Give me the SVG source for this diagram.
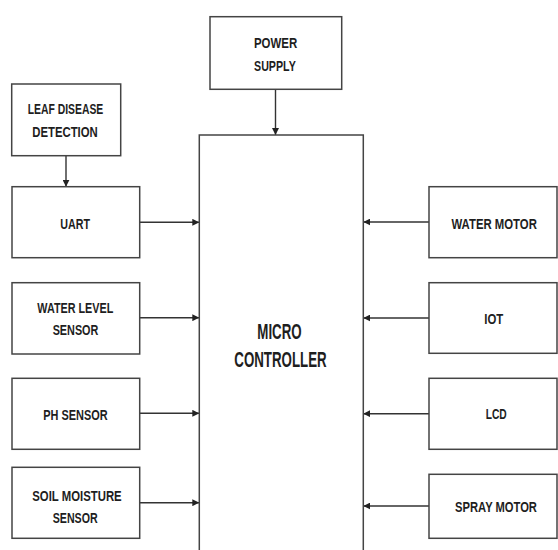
<svg xmlns="http://www.w3.org/2000/svg" width="558" height="550" viewBox="0 0 558 550">
<style>
.box{fill:#fff;stroke:#444;stroke-width:1.5}
.t{font-family:"Liberation Sans",Arial,sans-serif;font-weight:bold;font-size:15px;fill:#1e1e1e;text-anchor:middle}
.big{font-size:22px}
.c{stroke:#333;stroke-width:1.4;fill:none;marker-end:url(#ah)}
</style>
<defs>
<marker id="ah" markerUnits="userSpaceOnUse" markerWidth="7" markerHeight="7" refX="7" refY="3.5" orient="auto">
<path d="M0,0 L7,3.5 L0,7 z" fill="#222"/>
</marker>
</defs>
<rect width="558" height="550" fill="#fff"/>
<g id="connectors">
<line class="c" x1="275.5" y1="89.3" x2="275.5" y2="135"/>
<line class="c" x1="66" y1="155.7" x2="66" y2="186.7"/>
<line class="c" x1="139.7" y1="222.3" x2="199.3" y2="222.3"/>
<line class="c" x1="139.7" y1="317.7" x2="199.3" y2="317.7"/>
<line class="c" x1="139.7" y1="413.3" x2="199.3" y2="413.3"/>
<line class="c" x1="139.7" y1="502.7" x2="199.3" y2="502.7"/>
<line class="c" x1="429" y1="222" x2="363.3" y2="222"/>
<line class="c" x1="429" y1="318" x2="363.3" y2="318"/>
<line class="c" x1="429" y1="413.7" x2="363.3" y2="413.7"/>
<line class="c" x1="429" y1="506" x2="363.3" y2="506"/>
</g>
<g id="leaf">
<rect class="box" x="11.7" y="84" width="109" height="71.7"/>
<text class="t" x="65.5" y="114.3" textLength="75.6" lengthAdjust="spacingAndGlyphs">LEAF DISEASE</text>
<text class="t" x="65" y="136.7" textLength="65.4" lengthAdjust="spacingAndGlyphs">DETECTION</text>
</g>
<g id="power">
<rect class="box" x="210" y="16.7" width="131.7" height="72.6"/>
<text class="t" x="275.6" y="48.3" textLength="43.3" lengthAdjust="spacingAndGlyphs">POWER</text>
<text class="t" x="274.9" y="70.5" textLength="41.7" lengthAdjust="spacingAndGlyphs">SUPPLY</text>
</g>
<g id="uart">
<rect class="box" x="12" y="186.7" width="127.7" height="71"/>
<text class="t" x="75.2" y="228.7" textLength="29.7" lengthAdjust="spacingAndGlyphs">UART</text>
</g>
<g id="waterlevel">
<rect class="box" x="12" y="282.7" width="127.7" height="71.3"/>
<text class="t" x="75.3" y="312.7" textLength="76" lengthAdjust="spacingAndGlyphs">WATER LEVEL</text>
<text class="t" x="75.5" y="335" textLength="45.7" lengthAdjust="spacingAndGlyphs">SENSOR</text>
</g>
<g id="ph">
<rect class="box" x="12" y="378.3" width="127.7" height="71"/>
<text class="t" x="75.5" y="420" textLength="64.4" lengthAdjust="spacingAndGlyphs">PH SENSOR</text>
</g>
<g id="soil">
<rect class="box" x="12" y="467.3" width="127.7" height="71"/>
<text class="t" x="77" y="500.7" textLength="89.4" lengthAdjust="spacingAndGlyphs">SOIL MOISTURE</text>
<text class="t" x="75.2" y="523.3" textLength="45" lengthAdjust="spacingAndGlyphs">SENSOR</text>
</g>
<g id="micro">
<rect class="box" x="199.3" y="135" width="164" height="430"/>
<text class="t big" x="279.5" y="339.3" textLength="44.4" lengthAdjust="spacingAndGlyphs">MICRO</text>
<text class="t big" x="280.5" y="366.7" textLength="92.4" lengthAdjust="spacingAndGlyphs">CONTROLLER</text>
</g>
<g id="watermotor">
<rect class="box" x="429" y="186.7" width="128" height="71"/>
<text class="t" transform="translate(494.2,228.7) scale(0.757,1)" x="0" y="0">WATER MOTOR</text>
</g>
<g id="iot">
<rect class="box" x="429" y="282.7" width="128" height="70.6"/>
<text class="t" x="493.8" y="324" textLength="19" lengthAdjust="spacingAndGlyphs">IOT</text>
</g>
<g id="lcd">
<rect class="box" x="429" y="378.3" width="128" height="71"/>
<text class="t" x="496.2" y="419.3" textLength="21" lengthAdjust="spacingAndGlyphs">LCD</text>
</g>
<g id="spray">
<rect class="box" x="429" y="474.3" width="128" height="64"/>
<text class="t" transform="translate(496,512.3) scale(0.747,1)" x="0" y="0">SPRAY MOTOR</text>
</g>
</svg>
